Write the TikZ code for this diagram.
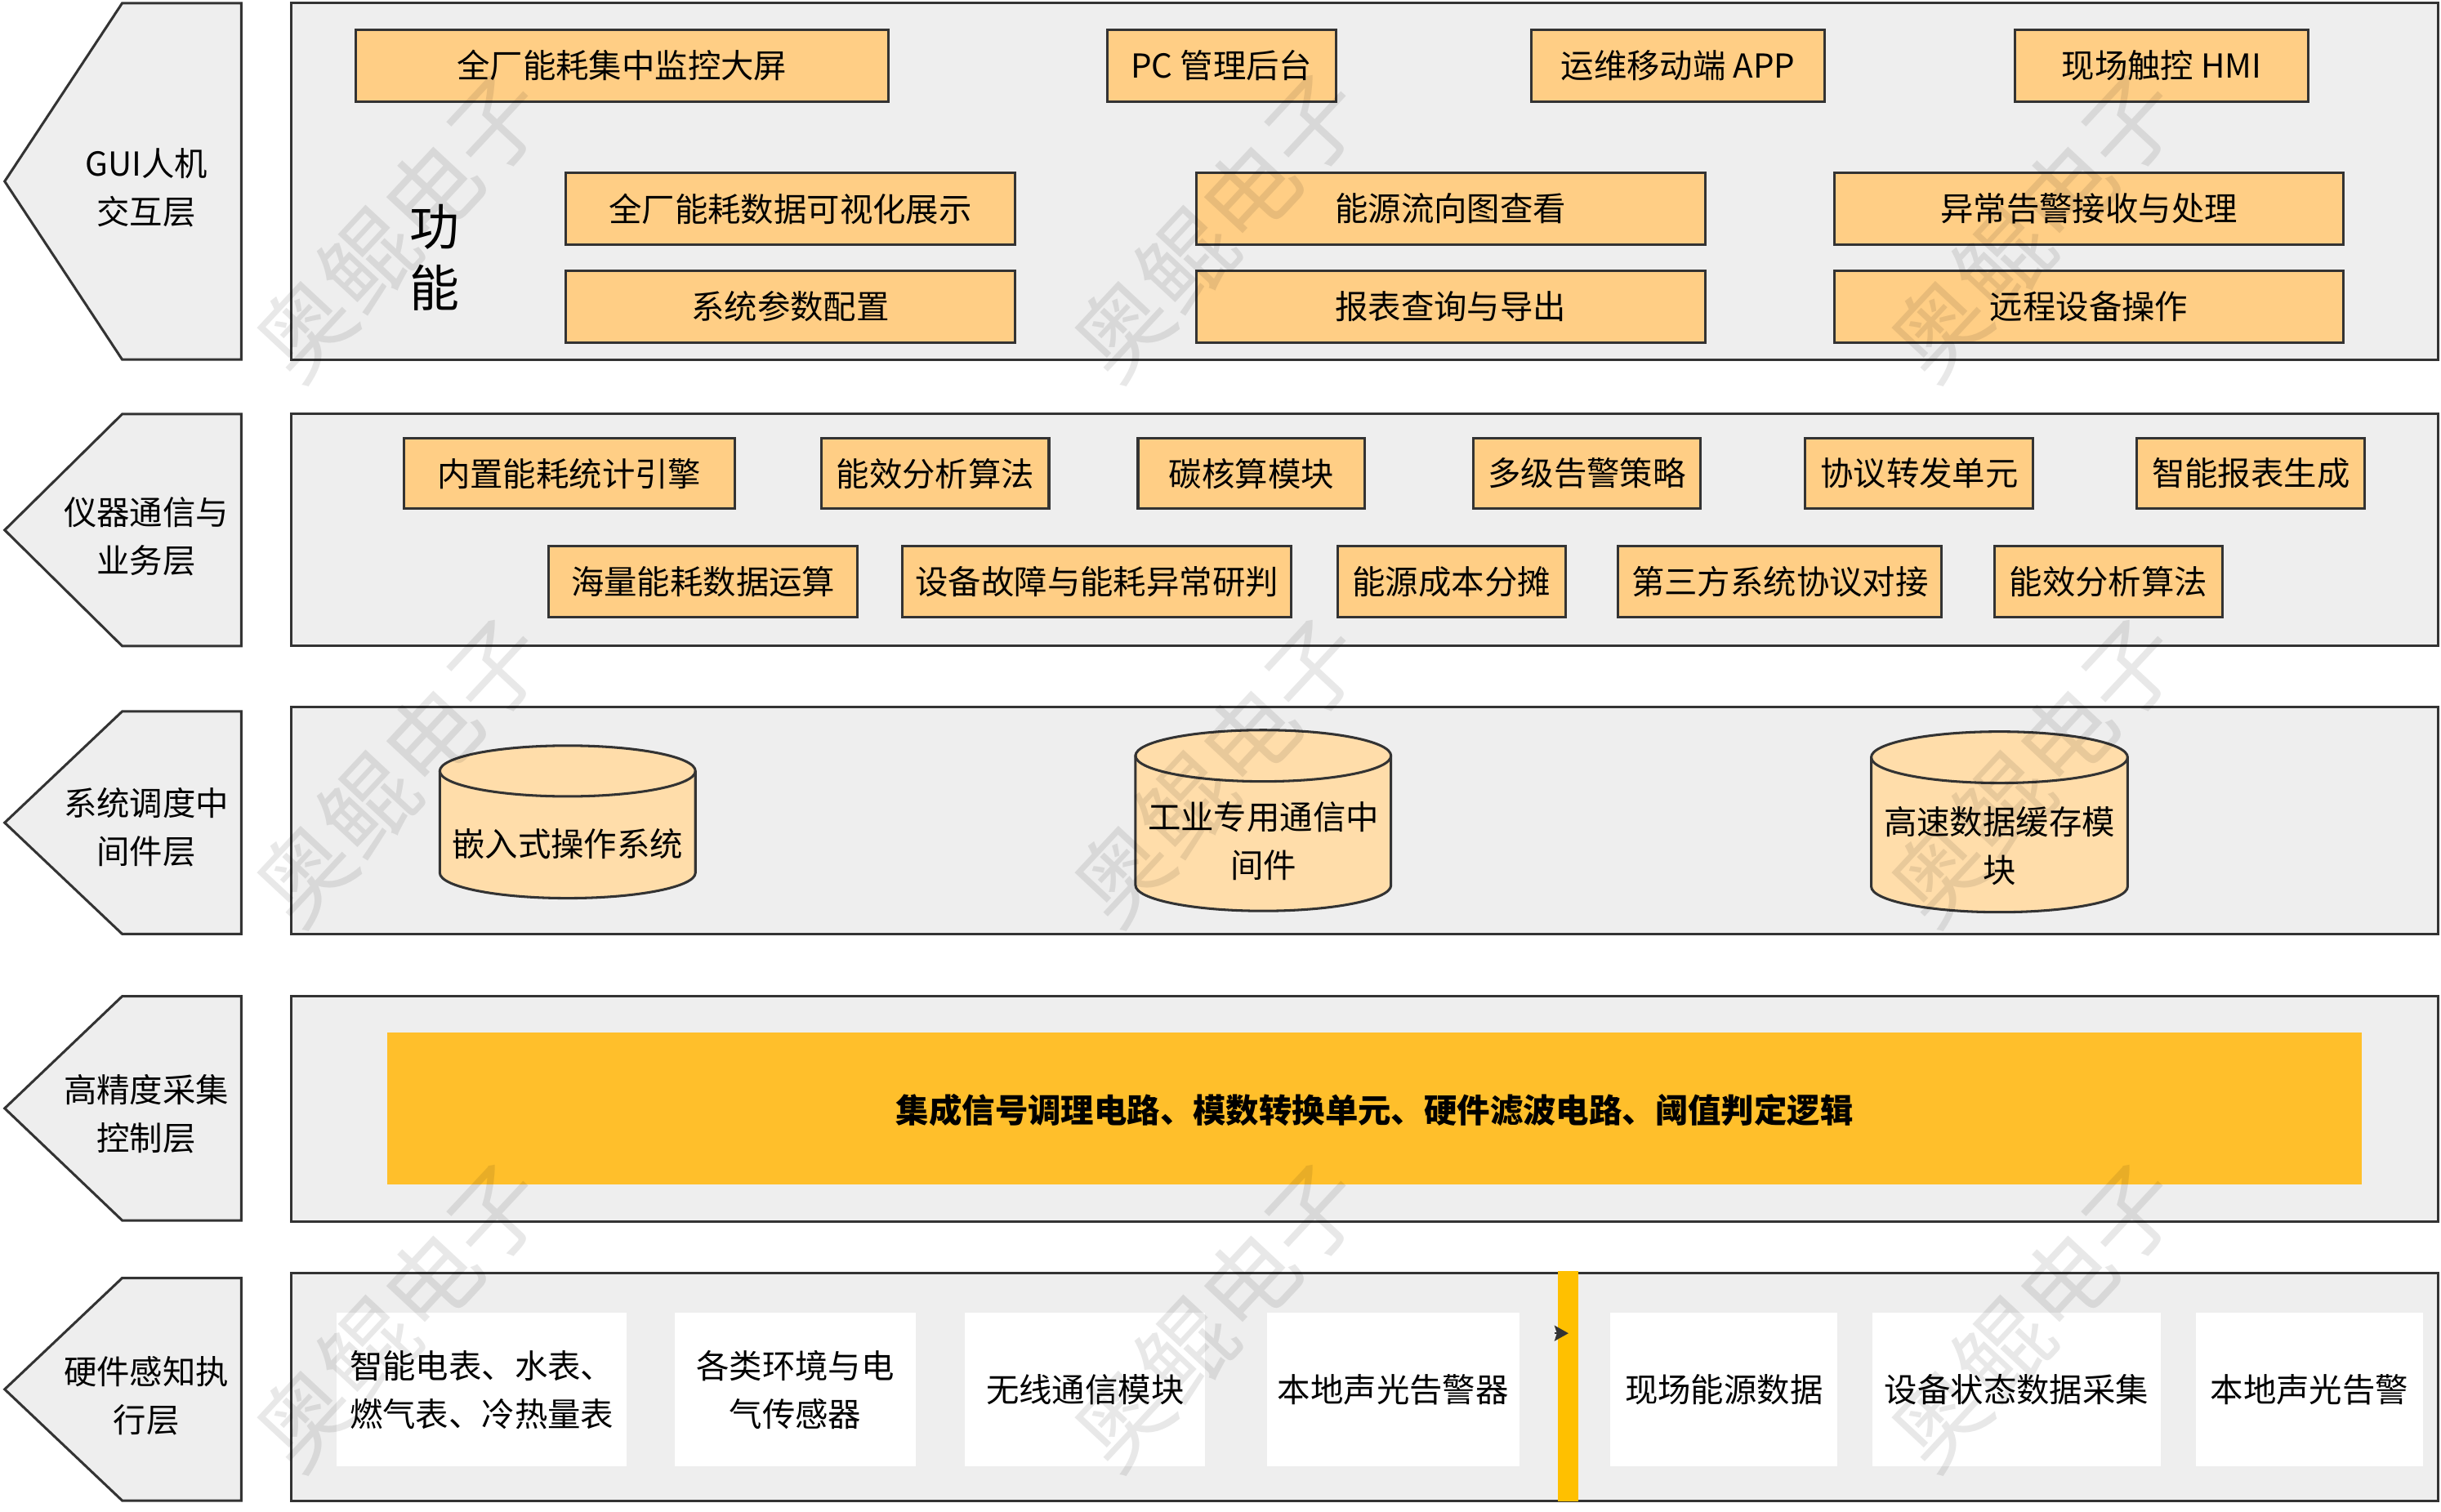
\documentclass[tikz,border=0pt]{standalone}
\usepackage{fontspec}
\setmainfont{Noto Sans CJK SC}
\usetikzlibrary{arrows.meta}
\definecolor{lyr}{HTML}{EEEEEE}
\definecolor{ln}{HTML}{333333}
\definecolor{fboxc}{HTML}{FFCE85}
\definecolor{cylc}{HTML}{FFDDAA}
\definecolor{barc}{HTML}{FFBF2B}
\definecolor{vbarc}{HTML}{FFC000}
\newcommand\fs{\fontsize{10.6pt}{15.5pt}\selectfont}
\newcommand\mkbox[7]{\node[#7, anchor=north west, minimum width={(#4-#2)*0.5pt}, minimum height={(#5-#3)*0.5pt}] (#1) at (#2,#3) {#6};}
\newcommand\mkcyl[5]{%
 \pgfmathsetmacro\cylrx{(#3-#1)/2}%
 \filldraw[cylsty] (#1,#2+#5) -- (#1,#4-#5) arc[start angle=180,end angle=0,x radius=\cylrx,y radius=#5] -- (#3,#2+#5) arc[start angle=0,end angle=-180,x radius=\cylrx,y radius=#5] -- cycle;
 \draw[cylsty, fill=none] (#1,#2+#5) arc[start angle=180,end angle=0,x radius=\cylrx,y radius=#5];
}
\tikzset{
 layer/.style={draw=ln, fill=lyr, line width=0.8pt, line join=miter},
 fb/.style={draw=ln, fill=fboxc, line width=0.8pt, inner sep=1pt, font=\fs, text=black},
 wb/.style={fill=white, inner sep=1pt, font=\fs, align=center, text=black},
 lbl/.style={font=\fs, align=center, text=black, inner sep=0pt},
 cylsty/.style={draw=ln, fill=cylc, line width=0.8pt},
 wm/.style={font=\fontsize{30pt}{30pt}\selectfont, text=black, text opacity=0.09, inner sep=0pt},
}
\begin{document}
\begin{tikzpicture}[x=0.5pt, y=-0.5pt]
\useasboundingbox (0,0) rectangle (1568,971);
\fill[white] (0,0) rectangle (1568,971);

% left pentagon tabs
\draw[layer] (155,2) -- (78.5,2) -- (3,116.5) -- (78.5,231) -- (155,231) -- cycle;
\draw[layer] (155,266) -- (78.5,266) -- (3,340.5) -- (78.5,415) -- (155,415) -- cycle;
\draw[layer] (155,457) -- (78.5,457) -- (3,528.5) -- (78.5,600) -- (155,600) -- cycle;
\draw[layer] (155,640) -- (78.5,640) -- (3,712) -- (78.5,784) -- (155,784) -- cycle;
\draw[layer] (155,821) -- (78.5,821) -- (3,892.5) -- (78.5,964) -- (155,964) -- cycle;
\node[lbl] (p1) at (94,120.5) {GUI人机\\交互层};
\node[lbl] (p2) at (94,344.5) {仪器通信与\\业务层};
\node[lbl] (p3) at (94,531.5) {系统调度中\\间件层};
\node[lbl] (p4) at (94,715.5) {高精度采集\\控制层};
\node[lbl] (p5) at (94,896.5) {硬件感知执\\行层};

% layer frames
\draw[layer] (187,2) rectangle (1566,231);
\draw[layer] (187,266) rectangle (1566,415);
\draw[layer] (187,454) rectangle (1566,600);
\draw[layer] (187,640) rectangle (1566,785);
\draw[layer] (187,818) rectangle (1566,964);

% layer 1
\node[font=\fontsize{16pt}{19.5pt}\selectfont, align=center, inner sep=0pt] (fn) at (279,165.5) {功\\能};
\mkbox{a1}{227.5}{18.2}{570}{64.6}{全厂能耗集中监控大屏}{fb}
\mkbox{a2}{710.4}{18.2}{857.3}{64.6}{PC 管理后台}{fb}
\mkbox{a3}{982.7}{18.2}{1171.4}{64.6}{运维移动端 APP}{fb}
\mkbox{a4}{1293.4}{18.2}{1482}{64.6}{现场触控 HMI}{fb}
\mkbox{a5}{362.8}{110.2}{651}{156.4}{全厂能耗数据可视化展示}{fb}
\mkbox{a6}{362.8}{173}{651}{219.2}{系统参数配置}{fb}
\mkbox{a7}{767.5}{110.2}{1094.6}{156.4}{能源流向图查看}{fb}
\mkbox{a8}{767.5}{173}{1094.6}{219.2}{报表查询与导出}{fb}
\mkbox{a9}{1177.6}{110.2}{1504.6}{156.4}{异常告警接收与处理}{fb}
\mkbox{a10}{1177.6}{173}{1504.6}{219.2}{远程设备操作}{fb}

% layer 2
\mkbox{b1}{258.5}{280.6}{471}{326.1}{内置能耗统计引擎}{fb}
\mkbox{b2}{527}{280.6}{673}{326.1}{能效分析算法}{fb}
\mkbox{b3}{730.2}{280.6}{875.9}{326.1}{碳核算模块}{fb}
\mkbox{b4}{945.4}{280.6}{1091.7}{326.1}{多级告警策略}{fb}
\mkbox{b5}{1158.9}{280.6}{1305.3}{326.1}{协议转发单元}{fb}
\mkbox{b6}{1371.9}{280.6}{1518.2}{326.1}{智能报表生成}{fb}
\mkbox{c1}{351.8}{349.9}{550}{395.5}{海量能耗数据运算}{fb}
\mkbox{c2}{579}{349.9}{828.5}{395.5}{设备故障与能耗异常研判}{fb}
\mkbox{c3}{858.4}{349.9}{1004.7}{395.5}{能源成本分摊}{fb}
\mkbox{c4}{1038.6}{349.9}{1246.5}{395.5}{第三方系统协议对接}{fb}
\mkbox{c5}{1280.4}{349.9}{1426.7}{395.5}{能效分析算法}{fb}

% layer 3 cylinders
\mkcyl{282.5}{479}{446.7}{577}{16.3}
\mkcyl{729.4}{469}{893.5}{585.2}{16.5}
\mkcyl{1202}{470}{1366.7}{586}{16.5}
\node[lbl] (e1) at (364.6,542) {嵌入式操作系统};
\node[lbl] (e2) at (811.5,540.5) {工业专用通信中\\间件};
\node[lbl] (e3) at (1284.3,543.3) {高速数据缓存模\\块};

% layer 4
\fill[barc] (248.5,663.4) rectangle (1517,761);
\node[lbl, font=\fs\bfseries] (g1) at (883,713) {集成信号调理电路、模数转换单元、硬件滤波电路、阈值判定逻辑};

% layer 5
\mkbox{d1}{216}{843}{402}{941.7}{智能电表、水表、\\燃气表、冷热量表}{wb}
\mkbox{d2}{433}{843}{588}{941.7}{各类环境与电\\气传感器}{wb}
\mkbox{d3}{619.5}{843}{773.8}{941.7}{无线通信模块}{wb}
\mkbox{d4}{813.4}{843}{975.5}{941.7}{本地声光告警器}{wb}
\mkbox{d5}{1034}{843}{1180}{941.7}{现场能源数据}{wb}
\mkbox{d6}{1202.5}{843}{1387.5}{941.7}{设备状态数据采集}{wb}
\mkbox{d7}{1410}{843}{1556}{941.7}{本地声光告警}{wb}
\fill[vbarc] (1000.7,816.5) rectangle (1013.9,964.5);
\coordinate (ar0) at (998.5,856.5);
\coordinate (ar1) at (1007.5,856.5);
\draw[ln, line width=0.5pt, -{Stealth[length=4.5pt,width=5pt,inset=0.8pt]}] (ar0) -- (ar1);

% watermarks
\foreach \wx in {257,782,1307}{
  \foreach \wy in {145,495,845}{
    \node[wm, rotate=47] (w\wx\wy) at (\wx,\wy) {奥鲲电子};
  }
}
\end{tikzpicture}
\end{document}
